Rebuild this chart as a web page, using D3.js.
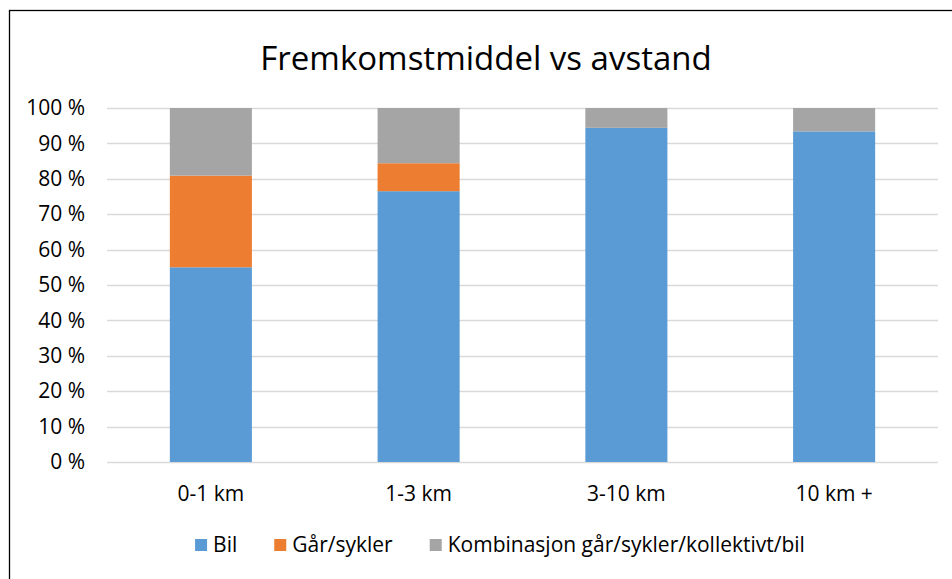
<!DOCTYPE html>
<html>
<head>
<meta charset="utf-8">
<script src="https://cdn.jsdelivr.net/npm/d3@7"></script>
<style>
  body { margin: 0; background: #fff; }
  text { font-family: "Open Sans", sans-serif; fill: #000; }
</style>
</head>
<body>
<svg id="chart"></svg>
<script>
const categories = ["0-1 km", "1-3 km", "3-10 km", "10 km +"];
const seriesNames = ["Bil", "Går/sykler", "Kombinasjon går/sykler/kollektivt/bil"];
const bil = [55.0, 76.5, 94.4, 93.4];
const garSykler = [25.9, 7.9, 0, 0];
const kombinasjon = [19.1, 15.6, 5.6, 6.6];
const yTicks = [0, 10, 20, 30, 40, 50, 60, 70, 80, 90, 100];
const colors = ["#5B9BD5", "#ED7D31", "#A5A5A5"];

const width = 952, height = 579;
const margin = { top: 108, right: 14, bottom: 117, left: 107 };
const fontSize = "21px";

const svg = d3.select("#chart").attr("width", width).attr("height", height);

// chart frame (only top/left edges are inside the picture)
svg.append("rect")
  .attr("x", 9.5).attr("y", 10.5)
  .attr("width", width).attr("height", height)
  .attr("fill", "none").attr("stroke", "#000").attr("stroke-width", 1.3);

svg.append("text")
  .attr("x", 486).attr("y", 70)
  .attr("text-anchor", "middle")
  .style("font-size", "33px")
  .text("Fremkomstmiddel vs avstand");

const rows = categories.map((c, i) => ({
  cat: c,
  [seriesNames[0]]: bil[i],
  [seriesNames[1]]: garSykler[i],
  [seriesNames[2]]: kombinasjon[i],
}));

const x = d3.scaleBand()
  .domain(categories)
  .range([margin.left, width - margin.right])
  .paddingInner(0.605)
  .paddingOuter(0.3025);

const y = d3.scaleLinear()
  .domain([0, 100])
  .range([height - margin.bottom, margin.top]);

// gridlines
svg.append("g")
  .selectAll("line")
  .data(yTicks)
  .join("line")
  .attr("x1", margin.left).attr("x2", width - margin.right)
  .attr("y1", d => Math.round(y(d)) + 0.5).attr("y2", d => Math.round(y(d)) + 0.5)
  .attr("stroke", "#D9D9D9").attr("stroke-width", 1.5);

const yAxis = svg.append("g")
  .attr("transform", `translate(${margin.left - 19},0)`)
  .call(d3.axisLeft(y).tickValues(yTicks).tickSize(0).tickFormat(d => d + " %"));
yAxis.select(".domain").remove();
yAxis.selectAll("text").style("font-size", fontSize);

const stack = d3.stack().keys(seriesNames);
const layers = stack(rows);

svg.append("g")
  .selectAll("g")
  .data(layers)
  .join("g")
  .attr("fill", (d, i) => colors[i])
  .selectAll("rect")
  .data(d => d)
  .join("rect")
  .attr("x", d => x(d.data.cat))
  .attr("width", x.bandwidth())
  .attr("y", d => y(d[1]))
  .attr("height", d => y(d[0]) - y(d[1]));

const xAxis = svg.append("g")
  .attr("transform", `translate(0,${height - margin.bottom})`)
  .call(d3.axisBottom(x).tickSize(0));
xAxis.select(".domain").remove();
xAxis.selectAll("text").style("font-size", fontSize).attr("dy", "0").attr("y", 39);

// legend
const legend = svg.append("g").attr("transform", "translate(0,545)");
const items = legend.selectAll("g")
  .data(seriesNames)
  .join("g");
items.append("rect")
  .attr("width", 12).attr("height", 12).attr("y", -6)
  .attr("fill", (d, i) => colors[i]);
items.append("text")
  .attr("x", 18).attr("dy", "0.35em")
  .style("font-size", fontSize)
  .text(d => d);

let widths = [];
items.each(function () { widths.push(d3.select(this).select("text").node().getComputedTextLength() + 18); });
const gap = 37;
const total = d3.sum(widths) + gap * (widths.length - 1);
let cx = 500 - total / 2;
items.attr("transform", (d, i) => {
  const t = `translate(${cx},0)`;
  cx += widths[i] + gap;
  return t;
});
</script>
</body>
</html>
